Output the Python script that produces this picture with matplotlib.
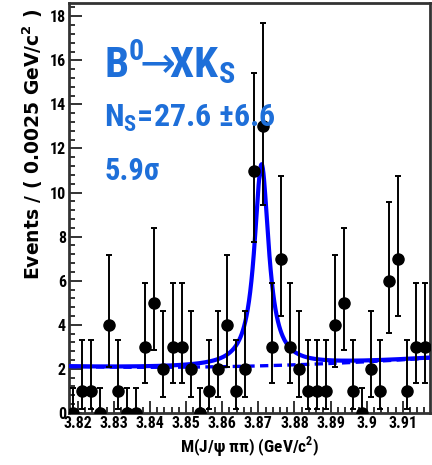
import os
import numpy as np
import matplotlib
matplotlib.use("Agg")
import matplotlib.pyplot as plt
from matplotlib import font_manager
from matplotlib.font_manager import FontProperties
from matplotlib.ticker import MultipleLocator, FuncFormatter

# binned data, 40 bins of 0.0025 GeV from 3.8175
x_lo = 3.8175
bin_w = 0.0025
counts = [0, 1, 1, 0, 4, 1, 0, 0, 3, 5,
          2, 3, 3, 2, 0, 1, 2, 4, 1, 2,
          11, 13, 3, 7, 3, 2, 1, 1, 1, 4,
          5, 1, 0, 2, 1, 6, 7, 1, 3, 3]

# poisson 68% intervals as drawn (lower, upper) per count
pois_lo = {0: 0.0, 1: 0.173, 2: 0.708, 3: 1.367, 4: 2.086, 5: 2.840,
           6: 3.620, 7: 4.419, 11: 7.734, 13: 9.441}
pois_hi = {0: 1.148, 1: 3.300, 2: 4.638, 3: 5.918, 4: 7.163, 5: 8.382,
           6: 9.584, 7: 10.77, 11: 15.42, 13: 17.70}

# fit result
n_sig = 27.6
m_peak = 3.8709
gamma = 0.0048
bkg0 = 2.07
bkg2 = 70.0
bkg_x0 = 3.84


def narrow_font(bold):
    # look for a condensed / narrow sans font, bold if asked
    prefs = ['liberation sans narrow', 'roboto condensed', 'dejavu sans condensed',
             'open sans condensed', 'noto sans condensed', 'condensed', 'narrow']
    best = None
    for f in font_manager.fontManager.ttflist:
        tag = (f.name + ' ' + os.path.basename(f.fname)).lower().replace('-', ' ')
        if 'italic' in tag or 'oblique' in tag or f.style != 'normal':
            continue
        if not ('narrow' in tag or 'condensed' in tag or str(f.stretch) in ('condensed', 'semi-condensed')):
            continue
        if 'extra' in tag or 'semi' in tag or 'light' in tag or 'thin' in tag or 'medium' in tag or 'black' in tag:
            continue
        is_bold = 'bold' in tag or f.weight in (700, 'bold')
        rank = len(prefs)
        for i, p in enumerate(prefs):
            if p in tag or p in f.name.lower():
                rank = i
                break
        score = rank * 2 + (0 if is_bold == bold else 1)
        if best is None or score < best[0]:
            best = (score, f.fname)
    if best is None:
        return FontProperties(family='Liberation Sans', weight='bold' if bold else 'normal')
    return FontProperties(fname=best[1])


fp_bold = narrow_font(True)

centers = x_lo + bin_w * (np.arange(len(counts)) + 0.5)
counts = np.array(counts)
lo = counts - np.array([pois_lo[c] for c in counts])
hi = np.array([pois_hi[c] for c in counts]) - counts

xs = np.linspace(x_lo, x_lo + bin_w * len(counts), 600)
bkg = bkg0 + bkg2 * (xs - bkg_x0) ** 2
sig = n_sig * bin_w * (gamma / (2 * np.pi)) / ((xs - m_peak) ** 2 + (gamma / 2) ** 2)

fig = plt.figure(figsize=(4.32, 4.65), dpi=100)
ax = fig.add_axes([0.159, 0.112, 0.836, 0.8815])

ax.plot(xs, bkg, color='blue', lw=2.4, ls=(0, (2.5, 1.6)), zorder=2)
ax.plot(xs, bkg + sig, color='blue', lw=3, zorder=3)
ax.errorbar(centers, counts, yerr=[lo, hi], fmt='o', color='black', ms=8,
            elinewidth=1.4, capsize=2.2, capthick=1.4, zorder=4)

ax.set_xlim(x_lo, x_lo + bin_w * len(counts))
ax.set_ylim(0, 18.6)
ax.xaxis.set_major_locator(MultipleLocator(0.01))
ax.xaxis.set_minor_locator(MultipleLocator(0.002))
ax.yaxis.set_major_locator(MultipleLocator(2))
ax.yaxis.set_minor_locator(MultipleLocator(0.4))
ax.xaxis.set_major_formatter(FuncFormatter(lambda v, p: '%g' % round(v, 3)))
ax.tick_params(which='both', direction='in', width=1.4, color='#333333')
ax.tick_params(which='major', length=9, pad=2)
ax.tick_params(which='minor', length=4.5)
for lab in ax.get_xticklabels() + ax.get_yticklabels():
    lab.set_fontproperties(fp_bold)
    lab.set_fontsize(11.5)
for s in ax.spines.values():
    s.set_linewidth(2)
    s.set_color('#333333')

xl = ax.set_xlabel('M(J/ψ ππ) (GeV/c$^{\\mathregular{2}}$)', fontproperties=fp_bold, labelpad=3)
xl.set_fontsize(12.5)
ax.set_ylabel('Events / ( 0.0025 GeV/c$^{\\mathregular{2}}$ )', fontfamily='DejaVu Sans',
              fontweight='bold', fontsize=13.5)
ax.yaxis.set_label_coords(-0.065, 0.655)

blue_txt = '#1e6fd9'
for s, y, size in [('B$^{\\mathregular{0}}\\!\\!\\rightarrow\\!\\!$XK$_{\\mathregular{S}}$', 15.19, 31),
                   ('N$_{\\mathregular{S}}$=27.6 ±6.6', 13.0, 23),
                   ('5.9σ', 10.55, 22)]:
    t = ax.text(3.8273, y, s, color=blue_txt, fontproperties=fp_bold,
                va='baseline', zorder=5)
    t.set_fontsize(size)

fig.savefig('out.png', dpi=100)
